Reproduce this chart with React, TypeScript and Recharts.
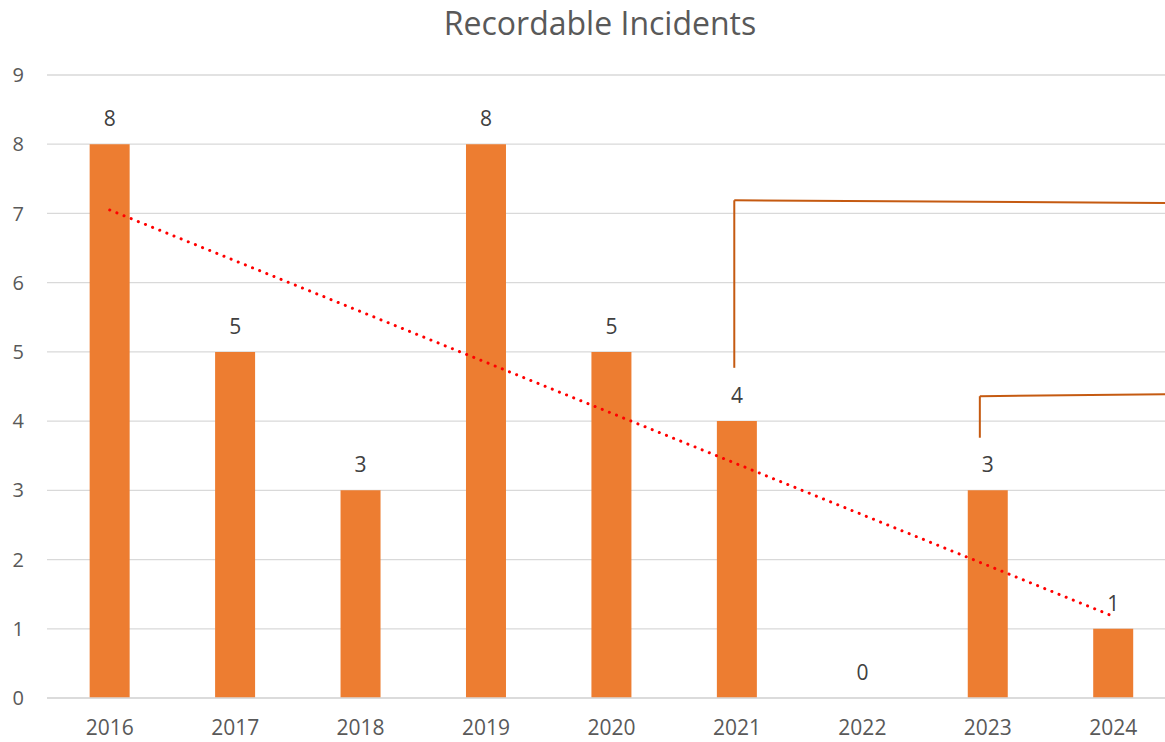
import {
  ComposedChart,
  Bar,
  Line,
  XAxis,
  YAxis,
  CartesianGrid,
  LabelList,
  ReferenceLine,
} from "recharts";

const years = ["2016", "2017", "2018", "2019", "2020", "2021", "2022", "2023", "2024"];
const incidents = [8, 5, 3, 8, 5, 4, 0, 3, 1];
// linear trend (start / end only)
const trend = [7.05, null, null, null, null, null, null, null, 1.18];
const yTicks = [0, 1, 2, 3, 4, 5, 6, 7, 8, 9];

// leader lines of the callouts (x on a 0..8 strip across the plot, y in values)
const callout1 = [
  { x: 4.87, y: 4.77 },
  { x: 4.87, y: 7.19 },
  { x: 8, y: 7.15 },
];
const callout2 = [
  { x: 6.61, y: 3.76 },
  { x: 6.61, y: 4.36 },
  { x: 8, y: 4.39 },
];

const data = years.map((year, i) => ({
  year,
  count: incidents[i],
  trend: trend[i],
}));

const font = "'Open Sans', 'Noto Sans', sans-serif";
const textColor = "#595959";

function segments(points: { x: number; y: number }[], key: string) {
  return points.slice(1).map((p, i) => (
    <ReferenceLine
      key={key + i}
      xAxisId="n"
      segment={[points[i], p]}
      stroke="#C55A11"
      strokeWidth={2}
      ifOverflow="visible"
    />
  ));
}

export default function App() {
  return (
    <div
      style={{
        position: "fixed",
        left: 0,
        top: 0,
        width: 1165,
        height: 742,
        overflow: "hidden",
        background: "#fff",
        fontFamily: font,
      }}
    >
      <div
        style={{
          position: "absolute",
          top: 5,
          left: 35,
          width: 1130,
          textAlign: "center",
          fontSize: 32,
          lineHeight: "36px",
          color: textColor,
        }}
      >
        Recordable Incidents
      </div>
      <ComposedChart
        width={1180}
        height={742}
        data={data}
        margin={{ top: 75, right: 4, bottom: 14, left: 0 }}
        barCategoryGap="34%"
      >
        <CartesianGrid vertical={false} stroke="#D9D9D9" strokeWidth={1.3} />
        <XAxis
          dataKey="year"
          axisLine={{ stroke: "#D9D9D9", strokeWidth: 1.3 }}
          tickLine={false}
          tickSize={0}
          tickMargin={22}
          height={30}
          tick={{ fill: textColor, fontSize: 21, fontFamily: font }}
        />
        <XAxis
          xAxisId="n"
          type="number"
          domain={[0, 8]}
          allowDataOverflow
          hide
        />
        <YAxis
          domain={[0, 9]}
          ticks={yTicks}
          width={47}
          axisLine={false}
          tickLine={false}
          tickSize={0}
          tickMargin={23}
          tick={{ fill: textColor, fontSize: 20, fontFamily: font }}
        />
        <Bar dataKey="count" fill="#ED7D31" isAnimationActive={false} />
        <Line
          dataKey="count"
          stroke="none"
          dot={false}
          activeDot={false}
          isAnimationActive={false}
        >
          <LabelList
            dataKey="count"
            position="top"
            offset={18}
            fill="#404040"
            fontSize={21}
            fontFamily={font}
          />
        </Line>
        <Line
          dataKey="trend"
          connectNulls
          stroke="#FF0000"
          strokeWidth={3}
          strokeDasharray="0.1 7.6"
          strokeLinecap="round"
          dot={false}
          activeDot={false}
          isAnimationActive={false}
        />
        {segments(callout1, "a")}
        {segments(callout2, "b")}
      </ComposedChart>
    </div>
  );
}
